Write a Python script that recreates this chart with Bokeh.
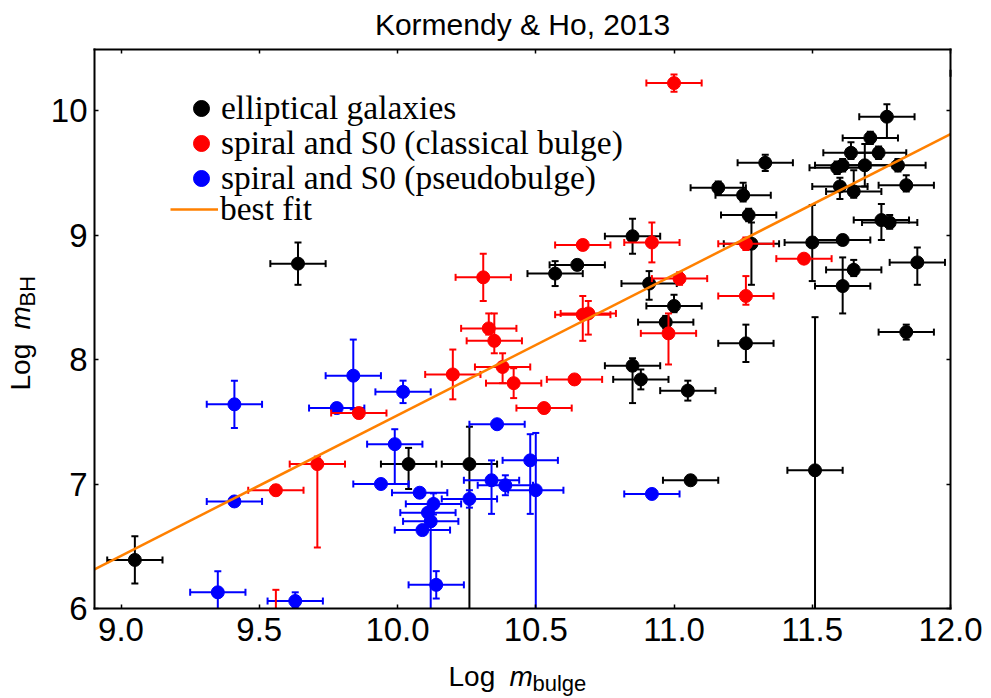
import numpy as np
from bokeh.plotting import figure
from bokeh.models import ColumnDataSource, Legend, LegendItem, Label, FixedTicker, LinearAxis
from bokeh.core.properties import value
from bokeh.embed import file_html
from bokeh.resources import INLINE

# ---------------- data ----------------
title_text = "Kormendy & Ho, 2013"
x_ticks = [9.0, 9.5, 10.0, 10.5, 11.0, 11.5, 12.0]
x_tick_labels = ["9.0", "9.5", "10.0", "10.5", "11.0", "11.5", "12.0"]
y_ticks = [6, 7, 8, 9, 10]
y_tick_labels = ["6", "7", "8", "9", "10"]
x_limits = [8.904, 12.0]
y_limits = [6.0, 10.49]

# elliptical galaxies
ell_x = [9.05, 9.64, 10.04, 10.26, 10.57, 10.65, 10.85, 10.85, 10.88, 10.91,
         10.97, 11.00, 11.05, 11.06, 11.16, 11.25, 11.27, 11.28, 11.26, 11.33,
         11.50, 11.51, 11.59, 11.61, 11.60, 11.61, 11.61, 11.64, 11.65, 11.65,
         11.69, 11.71, 11.74, 11.75, 11.77, 11.78, 11.81, 11.84, 11.84, 11.88, 12.10]
ell_y = [6.39, 8.77, 7.16, 7.16, 8.69, 8.76, 8.99, 7.95, 7.84, 8.61,
         8.30, 8.43, 7.75, 7.03, 9.38, 9.32, 9.16, 8.93, 8.13, 9.58,
         8.94, 7.11, 9.54, 9.56, 9.39, 8.59, 8.96, 9.66, 9.35, 8.72,
         9.56, 9.78, 9.66, 9.12, 9.95, 9.10, 9.56, 9.40, 8.22, 8.78, 10.30]
ell_xerr = [0.10] * 41
ell_ylo = [0.19, 0.17, 0.20, 1.30, 0.10, 0.04, 0.14, 0.30, 0.08, 0.13,
           0.05, 0.05, 0.08, 0.03, 0.05, 0.05, 0.05, 0.33, 0.15, 0.065,
           0.31, 1.23, 0.05, 0.05, 0.10, 0.22, 0.04, 0.05, 0.05, 0.05,
           0.17, 0.05, 0.05, 0.16, 0.17, 0.05, 0.05, 0.05, 0.06, 0.18, 0.05]
ell_yhi = [0.19, 0.17, 0.13, 0.30, 0.10, 0.04, 0.14, 0.06, 0.08, 0.10,
           0.05, 0.09, 0.08, 0.03, 0.05, 0.10, 0.05, 0.17, 0.15, 0.065,
           0.30, 1.23, 0.05, 0.05, 0.07, 0.23, 0.04, 0.086, 0.17, 0.08,
           0.17, 0.05, 0.05, 0.13, 0.10, 0.06, 0.05, 0.08, 0.06, 0.12, 0.05]

# spiral and S0, classical bulge
cls_x = [9.56, 9.56, 9.71, 9.86, 10.20, 10.31, 10.33, 10.35, 10.38, 10.42, 10.53,
         10.64, 10.67, 10.69, 10.67, 10.92, 10.98, 11.00, 11.02, 11.26, 11.26, 11.47]
cls_y = [6.95, 5.85, 7.16, 7.57, 7.88, 8.66, 8.25, 8.15, 7.94, 7.81, 7.61,
         7.84, 8.36, 8.37, 8.92, 8.94, 8.21, 10.22, 8.65, 8.93, 8.51, 8.81]
cls_xerr = [0.10] * 22
cls_ylo = [0.04, 0.10, 0.67, 0.04, 0.20, 0.19, 0.05, 0.10, 0.13, 0.12, 0.03,
           0.03, 0.21, 0.17, 0.04, 0.16, 0.25, 0.07, 0.05, 0.05, 0.07, 0.03]
cls_yhi = [0.04, 0.30, 0.06, 0.04, 0.20, 0.19, 0.12, 0.22, 0.11, 0.12, 0.03,
           0.03, 0.15, 0.10, 0.04, 0.16, 0.16, 0.07, 0.05, 0.05, 0.16, 0.03]

# spiral and S0, pseudobulge
pse_x = [9.35, 9.41, 9.41, 9.63, 9.78, 9.84, 9.94, 9.99, 10.02, 10.08, 10.13,
         10.11, 10.12, 10.09, 10.14, 10.26, 10.34, 10.39, 10.36, 10.48, 10.50, 10.92]
pse_y = [6.13, 7.64, 6.86, 6.06, 7.61, 7.87, 7.00, 7.32, 7.74, 6.93, 6.84,
         6.77, 6.70, 6.63, 6.19, 6.88, 7.03, 6.99, 7.48, 7.19, 6.95, 6.92]
pse_xerr = [0.10] * 22
pse_ylo = [0.30, 0.19, 0.03, 0.05, 0.04, 0.27, 0.03, 0.32, 0.09, 0.03, 0.085,
           0.03, 1.00, 0.03, 0.11, 0.07, 0.27, 0.08, 0.03, 0.43, 1.10, 0.03]
pse_yhi = [0.17, 0.19, 0.03, 0.07, 0.04, 0.29, 0.03, 0.12, 0.09, 0.03, 0.085,
           0.03, 0.03, 0.03, 0.11, 0.07, 0.16, 0.08, 0.03, 0.21, 0.46, 0.03]

# best fit line end points
fit_x = [8.9, 12.0]
fit_y = [6.31, 9.81]

legend_labels = ["elliptical galaxies", "spiral and S0 (classical bulge)",
                 "spiral and S0 (pseudobulge)", "best fit"]

# ---------------- layout geometry (pixels) ----------------
W, H = 991, 698
BOX_L, BOX_R, BOX_T, BOX_B = 94, 950, 49, 608   # plot box inside the canvas

XMIN, XMAX = x_limits
YMIN, YMAX = y_limits
sx = (BOX_R - BOX_L) / (XMAX - XMIN)
sy = (BOX_B - BOX_T) / (YMAX - YMIN)
xr = (XMIN - BOX_L / sx, XMAX + (W - BOX_R) / sx)
yr = (YMIN - (H - BOX_B) / sy, YMAX + BOX_T / sy)

p = figure(width=W, height=H, x_range=xr, y_range=yr,
           output_backend="svg", toolbar_location=None,
           min_border_left=0, min_border_right=0, min_border_top=0, min_border_bottom=0)
p.title.visible = False
p.grid.visible = False
p.outline_line_color = None
p.background_fill_color = "white"
p.border_fill_color = "white"


def style_axis(ax, ticks, labels, loc, bounds, show_labels, standoff):
    ax.fixed_location = loc
    ax.bounds = bounds
    ax.ticker = FixedTicker(ticks=ticks)
    ax.major_label_overrides = {t: l for t, l in zip(ticks, labels)}
    ax.axis_line_color = "black"
    ax.axis_line_width = 2
    ax.axis_line_cap = "square"
    ax.major_tick_in = 4
    ax.major_tick_out = 0
    ax.major_tick_line_width = 1.5
    ax.minor_tick_line_color = None
    ax.major_label_standoff = standoff
    ax.major_label_text_font = "Liberation Sans"
    ax.major_label_text_font_size = "33px"
    ax.major_label_text_color = "black" if show_labels else None

style_axis(p.xaxis[0], x_ticks, x_tick_labels, YMIN, (XMIN, XMAX), True, 9)
style_axis(p.yaxis[0], y_ticks, y_tick_labels, XMIN, (YMIN, YMAX), True, 7)
top_ax = LinearAxis()
right_ax = LinearAxis()
p.add_layout(top_ax, "above")
p.add_layout(right_ax, "right")
style_axis(top_ax, x_ticks, x_tick_labels, YMAX, (XMIN, XMAX), False, 0)
style_axis(right_ax, y_ticks, y_tick_labels, XMAX, (YMIN, YMAX), False, 0)


def inside(v, lo, hi):
    return (v >= lo - 1e-9) & (v <= hi + 1e-9)


def add_group(x, y, xerr, ylo, yhi, color):
    x = np.array(x, dtype=float)
    y = np.array(y, dtype=float)
    xl = x - np.array(xerr)
    xh = x + np.array(xerr)
    yl = y - np.array(ylo)
    yh = y + np.array(yhi)
    # horizontal bars (cut at the plot box)
    hb = inside(y, YMIN, YMAX)
    hx0 = np.clip(xl, XMIN, XMAX)
    hx1 = np.clip(xh, XMIN, XMAX)
    m = hb & (hx1 > hx0)
    p.segment(x0=hx0[m], y0=y[m], x1=hx1[m], y1=y[m], line_color=color, line_width=2)
    # vertical bars
    vb = inside(x, XMIN, XMAX)
    vy0 = np.clip(yl, YMIN, YMAX)
    vy1 = np.clip(yh, YMIN, YMAX)
    m = vb & (vy1 > vy0)
    p.segment(x0=x[m], y0=vy0[m], x1=x[m], y1=vy1[m], line_color=color, line_width=2)
    # caps
    for xc in (xl, xh):
        m = hb & inside(xc, XMIN, XMAX)
        p.scatter(x=xc[m], y=y[m], marker="dash", angle=np.pi / 2, size=7,
                  line_color=color, line_width=2)
    for yc in (yl, yh):
        m = vb & inside(yc, YMIN, YMAX)
        p.scatter(x=x[m], y=yc[m], marker="dash", angle=0, size=7,
                  line_color=color, line_width=2)
    m = inside(x, XMIN, XMAX) & inside(y, YMIN, YMAX)
    return p.scatter(x=x[m], y=y[m], size=13, fill_color=color, line_color=color)


r_ell = add_group(ell_x, ell_y, ell_xerr, ell_ylo, ell_yhi, "black")
r_pse = add_group(pse_x, pse_y, pse_xerr, pse_ylo, pse_yhi, "#0000ff")
r_cls = add_group(cls_x, cls_y, cls_xerr, cls_ylo, cls_yhi, "#ff0000")
fx = np.clip(np.array(fit_x), XMIN, XMAX)
fy = np.interp(fx, fit_x, fit_y)
r_fit = p.line(fx, fy, line_color="#ff8000", line_width=2.5)

# legend: one single-row legend per entry so each row sits where the reference has it
ROW_H = 40
rows = [  # (renderer, label, row centre y in px, glyph box left, glyph width, standoff)
    (r_ell, legend_labels[0], 108, 181, 40, 0),
    (r_cls, legend_labels[1], 143, 181, 40, 0),
    (r_pse, legend_labels[2], 178, 181, 40, 0),
    (r_fit, legend_labels[3], 209, 170, 48, 2),
]
for rend, text, cy, gx, gw, so in rows:
    lg = Legend(items=[LegendItem(label=value(text), renderers=[rend])],
                location=(gx, H - cy - ROW_H / 2), border_line_color=None,
                background_fill_alpha=0, label_text_font="Liberation Serif",
                label_text_font_size="33.5px", label_text_color="black",
                glyph_width=gw, glyph_height=ROW_H, label_height=ROW_H,
                label_standoff=so, spacing=0, padding=0, margin=0)
    p.add_layout(lg)

# title and axis labels as real text (frame covers the whole canvas, so no clipping)
lab = dict(x_units="screen", y_units="screen", text_baseline="alphabetic",
           text_align="left", text_color="black", text_font="Liberation Sans")
p.add_layout(Label(x=(BOX_L + BOX_R) / 2, y=H - 24, x_units="screen", y_units="screen",
                   text=title_text, text_align="center", text_baseline="alphabetic",
                   text_font="Liberation Sans", text_font_size="30px", text_color="black"))
# x label: Log m_bulge
p.add_layout(Label(x=448, y=H - 676, text="Log", text_font_size="28px", **lab))
p.add_layout(Label(x=509, y=H - 676, text="m", text_font_size="28px", text_font_style="italic", **lab))
p.add_layout(Label(x=532, y=H - 683, text="bulge", text_font_size="22px", **lab))
# y label: Log m_BH (rotated, reading upwards)
p.add_layout(Label(x=20, y=H - 390, angle=np.pi / 2, text="Log", text_font_size="28px", **lab))
p.add_layout(Label(x=20, y=H - 329, angle=np.pi / 2, text="m", text_font_size="28px",
                   text_font_style="italic", **lab))
p.add_layout(Label(x=27, y=H - 306, angle=np.pi / 2, text="BH", text_font_size="22px", **lab))

open("out.html", "w").write(file_html(p, INLINE))
